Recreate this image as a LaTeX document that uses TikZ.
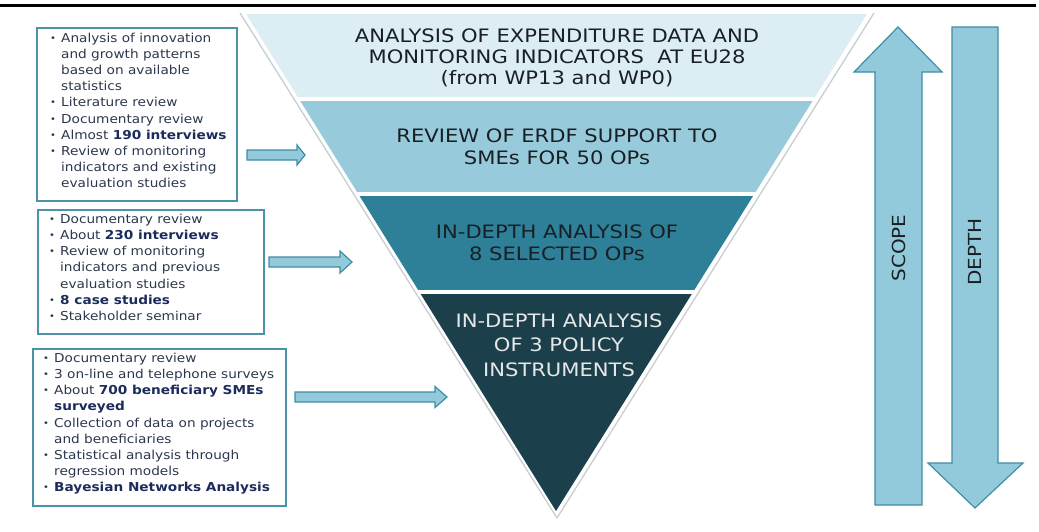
\documentclass[tikz,border=0pt]{standalone}
\usepackage{fontspec}
\setmainfont{DejaVu Sans}[FakeStretch=1.11]
\newfontfamily\pyrfont{DejaVu Sans}[FakeStretch=1.14]
\definecolor{bandA}{HTML}{DCEEF4}
\definecolor{bandB}{HTML}{97CBDC}
\definecolor{bandC}{HTML}{2E8099}
\definecolor{bandD}{HTML}{1C3F4C}
\definecolor{outl}{HTML}{C9CDCF}
\definecolor{boxc}{HTML}{4A93A8}
\definecolor{arrfill}{HTML}{93CADB}
\definecolor{arrline}{HTML}{3F8EA5}
\definecolor{txtc}{HTML}{2B374D}
\definecolor{boldc}{HTML}{1B2B5B}
\definecolor{ptxt}{HTML}{1A1F24}
\definecolor{ptxtw}{HTML}{E6E8E8}
\newcommand{\bl}{\makebox[11pt][l]{\fontsize{9}{9}\selectfont\raisebox{1pt}{•}}}
\newcommand{\ind}{\hspace*{11pt}}
\newcommand{\B}[1]{\textbf{\color{boldc}#1}}
\begin{document}
\begin{tikzpicture}[x=1pt,y=-1pt,
  boxframe/.style={draw=boxc, line width=1.8pt, inner sep=0, anchor=north west},
  btext/.style={anchor=north west, inner sep=0, align=left, text=txtc, font=\fontsize{12.3}{16.2}\selectfont},
  ptext/.style={anchor=north, align=center, inner sep=0, text=ptxt},
  blockarr/.style={fill=arrfill, draw=arrline, line width=1.2pt, line join=miter},
  side/.style={rotate=90, inner sep=0, text=ptxt, font=\fontsize{18}{18}\selectfont}]
\useasboundingbox (0,0) rectangle (1039,531);
% top rule
\coordinate (ruleL) at (0,5.5);
\coordinate (ruleR) at (1036,5.5);
\draw[line width=2.7pt] (ruleL) -- (ruleR);
% pyramid outline
\coordinate (oTL) at (240,13);
\coordinate (oTR) at (874,13);
\coordinate (oAp) at (557,518);
\draw[outl, line width=1.3pt, line join=round] (oTL) -- (oAp) -- (oTR);
% pyramid bands
\begin{scope}
\clip (246,14) -- (867,14) -- (556,511) -- cycle;
\fill[bandA] (200,14) rectangle (900,97);
\fill[bandB] (200,101) rectangle (900,192);
\fill[bandC] (200,196) rectangle (900,290);
\fill[bandD] (200,294) rectangle (900,520);
\end{scope}
\node[ptext, font=\pyrfont\fontsize{18.5}{21}\selectfont] (p1) at (557,28.5)
  {ANALYSIS OF EXPENDITURE DATA AND\\MONITORING INDICATORS\ \ AT EU28\\(from WP13 and WP0)};
\node[ptext, font=\pyrfont\fontsize{18.5}{22}\selectfont] (p2) at (557,128.5)
  {REVIEW OF ERDF SUPPORT TO\\SMEs FOR 50 OPs};
\node[ptext, font=\pyrfont\fontsize{18.5}{22}\selectfont] (p3) at (557,224.5)
  {IN-DEPTH ANALYSIS OF\\8 SELECTED OPs};
\node[ptext, text=ptxtw, font=\pyrfont\fontsize{18.5}{24.5}\selectfont] (p4) at (559,313.5)
  {IN-DEPTH ANALYSIS\\OF 3 POLICY\\INSTRUMENTS};
% left boxes
\node[boxframe, minimum width=200pt, minimum height=173pt] (b1) at (36,27) {};
\node[boxframe, minimum width=226pt, minimum height=124pt] (b2) at (37,209) {};
\node[boxframe, minimum width=253pt, minimum height=157pt] (b3) at (32,348) {};
\node[btext] (t1) at (50,32.6) {\bl Analysis of innovation\\\ind and growth patterns\\\ind based on available\\\ind statistics\\\bl Literature review\\\bl Documentary review\\\bl Almost \B{190 interviews}\\\bl Review of monitoring\\\ind indicators and existing\\\ind evaluation studies};
\node[btext] (t2) at (49,213.7) {\bl Documentary review\\\bl About \B{230 interviews}\\\bl Review of monitoring\\\ind indicators and previous\\\ind evaluation studies\\\bl \B{8 case studies}\\\bl Stakeholder seminar};
\node[btext] (t3) at (43,352.7) {\bl Documentary review\\\bl 3 on-line and telephone surveys\\\bl About \B{700 beneficiary SMEs}\\\ind\B{surveyed}\\\bl Collection of data on projects\\\ind and beneficiaries\\\bl Statistical analysis through\\\ind regression models\\\bl \B{Bayesian Networks Analysis}};
% block arrows to pyramid
\draw[blockarr] (247,150) -- (297,150) -- (297,145) -- (305,155) -- (297,165) -- (297,160) -- (247,160) -- cycle;
\draw[blockarr] (269,257) -- (340,257) -- (340,251) -- (352,262) -- (340,273) -- (340,267) -- (269,267) -- cycle;
\draw[blockarr] (295,392) -- (435,392) -- (435,386.5) -- (447,397) -- (435,407.5) -- (435,402) -- (295,402) -- cycle;
% scope / depth arrows
\draw[blockarr] (875,505) -- (875,72) -- (854,72) -- (898,27) -- (942,72) -- (922,72) -- (922,505) -- cycle;
\draw[blockarr] (952,27) -- (998,27) -- (998,463) -- (1023,463) -- (975,508) -- (928,463) -- (952,463) -- cycle;
\node[side] (scope) at (898.5,248) {SCOPE};
\node[side] (depth) at (975,252) {DEPTH};
\end{tikzpicture}
\end{document}
